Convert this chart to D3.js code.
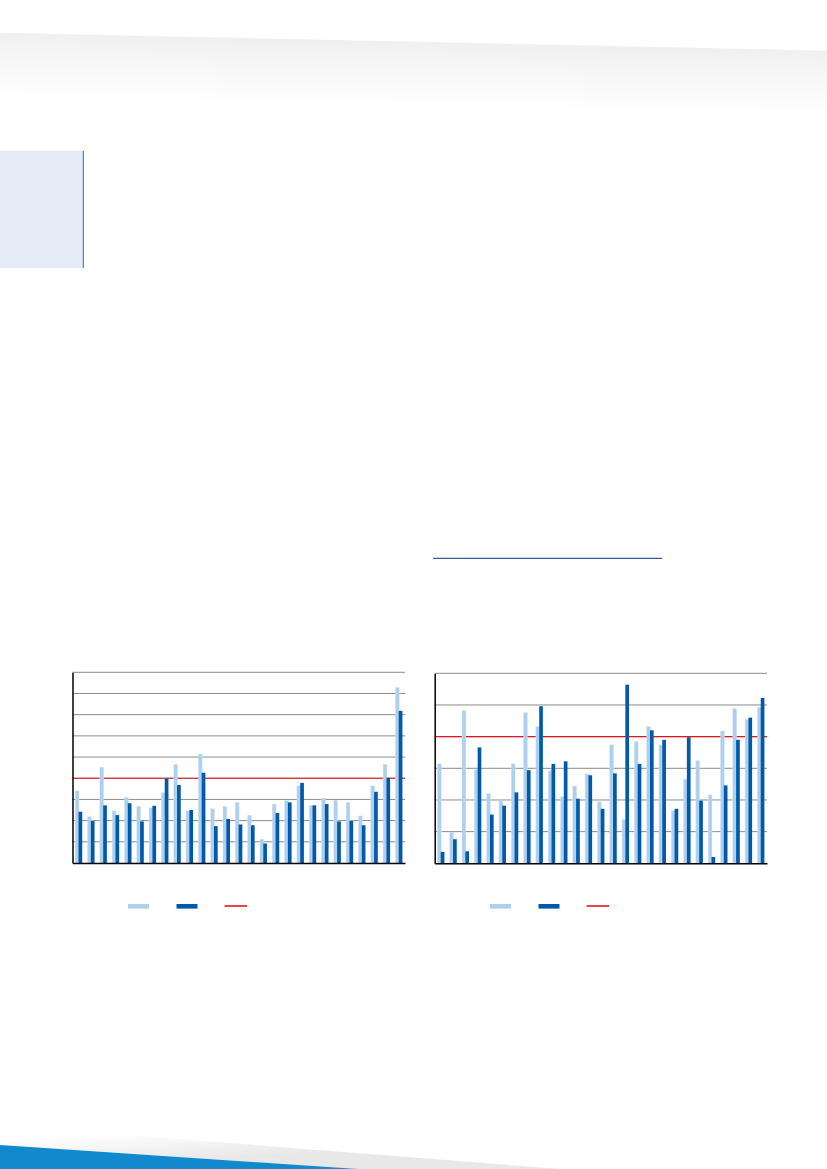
<!DOCTYPE html>
<html><head><meta charset="utf-8">
<script src="https://cdn.jsdelivr.net/npm/d3@7"></script>
<style>html,body{margin:0;padding:0;background:#fff}svg{display:block}</style>
</head><body>
<script>
// ---------- data ----------
const categories = d3.range(1, 28).map(String);
const chart1Light = [17.0,10.9,22.6,12.3,15.5,13.4,13.0,16.6,23.3,12.3,25.7,12.8,13.4,14.3,11.3,5.6,13.9,14.7,18.2,13.6,15.3,14.8,14.3,11.1,18.2,23.3,41.4];
const chart1Dark  = [12.1,9.9,13.6,11.3,14.1,9.8,13.5,19.9,18.4,12.5,21.3,8.7,10.4,9.1,8.9,4.6,11.8,14.3,18.9,13.6,13.9,9.8,9.9,8.9,16.8,20.1,35.9];
const chart2Light = [15.7,4.9,24.1,14.8,11.0,10.0,15.7,23.8,21.6,14.6,10.5,12.2,14.1,9.7,18.7,6.9,19.2,21.6,18.7,8.3,13.3,16.2,10.8,20.9,24.4,22.7,24.6];
const chart2Dark  = [1.8,3.8,1.9,18.3,7.7,9.1,11.2,14.7,24.8,15.7,16.1,10.2,13.9,8.6,14.2,28.2,15.7,21.0,19.5,8.6,19.9,9.9,1.0,12.3,19.5,23.0,26.1];
const chart1Ticks = [0,5,10,15,20,25,30,35,40,45];
const chart2Ticks = [0,5,10,15,20,25,30];
const referenceLevel = 20;

// ---------- page ----------
const W = 827, H = 1169;
const svg = d3.select("body").append("svg").attr("width", W).attr("height", H);
const defs = svg.append("defs");
const g1 = defs.append("linearGradient").attr("id","topShade").attr("gradientUnits","userSpaceOnUse")
  .attr("x1",0).attr("y1",34).attr("x2",-1.4).attr("y2",98);
g1.append("stop").attr("offset",0).attr("stop-color","#f0f0f0");
g1.append("stop").attr("offset",0.35).attr("stop-color","#f6f6f6");
g1.append("stop").attr("offset",1).attr("stop-color","#ffffff");
const g2 = defs.append("linearGradient").attr("id","botShade").attr("gradientUnits","userSpaceOnUse")
  .attr("x1",200).attr("y1",1160).attr("x2",198).attr("y2",1128);
g2.append("stop").attr("offset",0).attr("stop-color","#e8e8e8");
g2.append("stop").attr("offset",1).attr("stop-color","#ffffff");

svg.append("path").attr("d","M0,32.7 L827,50.7 L827,115 L0,100 Z").attr("fill","url(#topShade)");
svg.append("path").attr("d","M0,1125 L560,1169 L358,1169 L0,1145 Z").attr("fill","url(#botShade)");
svg.append("path").attr("d","M0,1145 L358,1169 L0,1169 Z").attr("fill","#1189cc");

svg.append("rect").attr("x",0).attr("y",150.7).attr("width",83).attr("height",117.3).attr("fill","#e5ecf8");
svg.append("line").attr("x1",83.3).attr("x2",83.3).attr("y1",150.7).attr("y2",268).attr("stroke","#1577c4").attr("stroke-width",1);
svg.append("line").attr("x1",433).attr("x2",662).attr("y1",558.3).attr("y2",558.3).attr("stroke","#3b5aa0").attr("stroke-width",1.3);

// ---------- charts ----------
function drawChart(opt) {
  const x = d3.scaleBand().domain(categories).range([opt.left, opt.right]).paddingInner(0).paddingOuter(0);
  const y = d3.scaleLinear().domain([0, d3.max(opt.ticks)]).range([opt.bottom, opt.top]);
  const g = svg.append("g");
  const bw = x.bandwidth();

  // gridlines
  g.append("g").selectAll("line").data(opt.ticks.filter(t => t > 0)).join("line")
    .attr("x1", opt.left).attr("x2", opt.right)
    .attr("y1", d => y(d)).attr("y2", d => y(d))
    .attr("stroke", "#8c8c8c").attr("stroke-width", 1);
  // reference line
  g.append("line").attr("x1", opt.left).attr("x2", opt.right)
    .attr("y1", y(referenceLevel)).attr("y2", y(referenceLevel))
    .attr("stroke", "#e3161d").attr("stroke-width", 1.2);

  // bars
  g.append("g").selectAll("rect").data(opt.light).join("rect")
    .attr("x", (d,i) => x(categories[i]) + bw*0.22)
    .attr("width", bw*0.31)
    .attr("y", d => y(d)).attr("height", d => y(0) - y(d))
    .attr("fill", "#afcfee").attr("stroke","#d3e4f6").attr("stroke-width",0.4);
  g.append("g").selectAll("rect").data(opt.dark).join("rect")
    .attr("x", (d,i) => x(categories[i]) + bw*0.49)
    .attr("width", bw*0.30)
    .attr("y", d => y(d)).attr("height", d => y(0) - y(d))
    .attr("fill", "#005aab");

  // axes
  const yAxis = d3.axisLeft(y).tickValues([]).tickSize(0).tickSizeOuter(0);
  g.append("g").attr("transform", `translate(${opt.left},0)`).call(yAxis)
    .call(s => s.select(".domain").attr("stroke","#000").attr("stroke-width",1.5));
  const xAxis = d3.axisBottom(x).tickValues([]).tickSize(0).tickSizeOuter(0);
  g.append("g").attr("transform", `translate(0,${opt.bottom})`).call(xAxis)
    .call(s => s.select(".domain").attr("stroke","#000").attr("stroke-width",1.5));

  // legend
  const lg = svg.append("g");
  lg.append("rect").attr("x", opt.legendX).attr("y", 904).attr("width", 21).attr("height", 4.6).attr("fill", "#afcfee");
  lg.append("rect").attr("x", opt.legendX + 48.5).attr("y", 904).attr("width", 21).attr("height", 4.6).attr("fill", "#005aab");
  lg.append("line").attr("x1", opt.legendX + 96.5).attr("x2", opt.legendX + 119).attr("y1", 906).attr("y2", 906)
    .attr("stroke", "#e3161d").attr("stroke-width", 1.6);
}

drawChart({left:72.5, right:405, top:672.3, bottom:863, ticks:chart1Ticks, light:chart1Light, dark:chart1Dark, legendX:128});
drawChart({left:434.7, right:767, top:673.3, bottom:863.3, ticks:chart2Ticks, light:chart2Light, dark:chart2Dark, legendX:490});
</script>
</body></html>
